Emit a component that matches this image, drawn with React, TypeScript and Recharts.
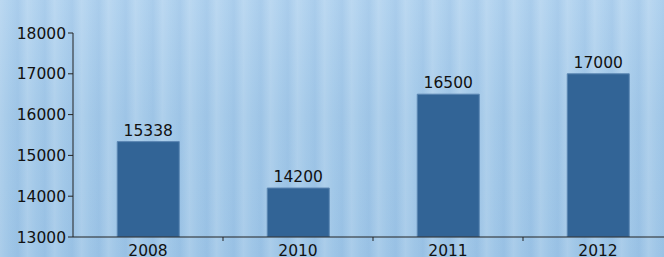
import { BarChart, Bar, XAxis, YAxis, LabelList } from 'recharts';

const years = ['2008', '2010', '2011', '2012'];
const amounts = [15338, 14200, 16500, 17000];
const yTicks = [13000, 14000, 15000, 16000, 17000, 18000];

const chartData = years.map((year, i) => ({ year, amount: amounts[i] }));

const font = 'Verdana, "DejaVu Sans", sans-serif';

// year label in the middle of the band, tick mark on the band's right edge
function YearTick(props: any) {
  const { x, y, payload } = props;
  const edge = x + (payload.offset || 0);
  return (
    <g>
      <line x1={edge} y1={y - 4} x2={edge} y2={y} stroke="#222" strokeWidth={1} />
      <text x={x} y={y} dy={15} textAnchor="middle" fontSize={15.5} fontFamily={font} fill="#111">
        {payload.value}
      </text>
    </g>
  );
}

export default function App() {
  return (
    <div
      style={{
        position: 'absolute',
        left: 0,
        top: 0,
        width: 664,
        height: 257,
        overflow: 'hidden',
        background:
          'repeating-linear-gradient(90deg, rgba(255,255,255,0.12) 0px, rgba(255,255,255,0.0) 9px, rgba(60,120,190,0.07) 18px, rgba(255,255,255,0.10) 27px), linear-gradient(180deg, #b2d3ef 0%, #a5cae9 45%, #9fc6e7 100%)',
      }}
    >
      <BarChart
        width={680}
        height={257}
        data={chartData}
        margin={{ top: 33, right: 7, left: 0, bottom: 0 }}
        barCategoryGap="29.5%"
      >
        <XAxis
          dataKey="year"
          axisLine={{ stroke: '#222' }}
          tickLine={false}
          tickSize={4}
          tickMargin={0}
          height={20}
          interval={0}
          tick={<YearTick />}
        />
        <YAxis
          domain={[13000, 18000]}
          ticks={yTicks}
          allowDataOverflow
          width={73}
          axisLine={{ stroke: '#222' }}
          tickLine={{ stroke: '#222' }}
          tickSize={5}
          tickMargin={2}
          tick={{ fontSize: 15.5, fontFamily: font, fill: '#111' }}
        />
        <Bar dataKey="amount" fill="#326496" stroke="#5b86b3" strokeWidth={1} isAnimationActive={false}>
          <LabelList
            dataKey="amount"
            position="top"
            offset={6}
            style={{ fontSize: 15.5, fontFamily: font, fill: '#111' }}
          />
        </Bar>
      </BarChart>
    </div>
  );
}
